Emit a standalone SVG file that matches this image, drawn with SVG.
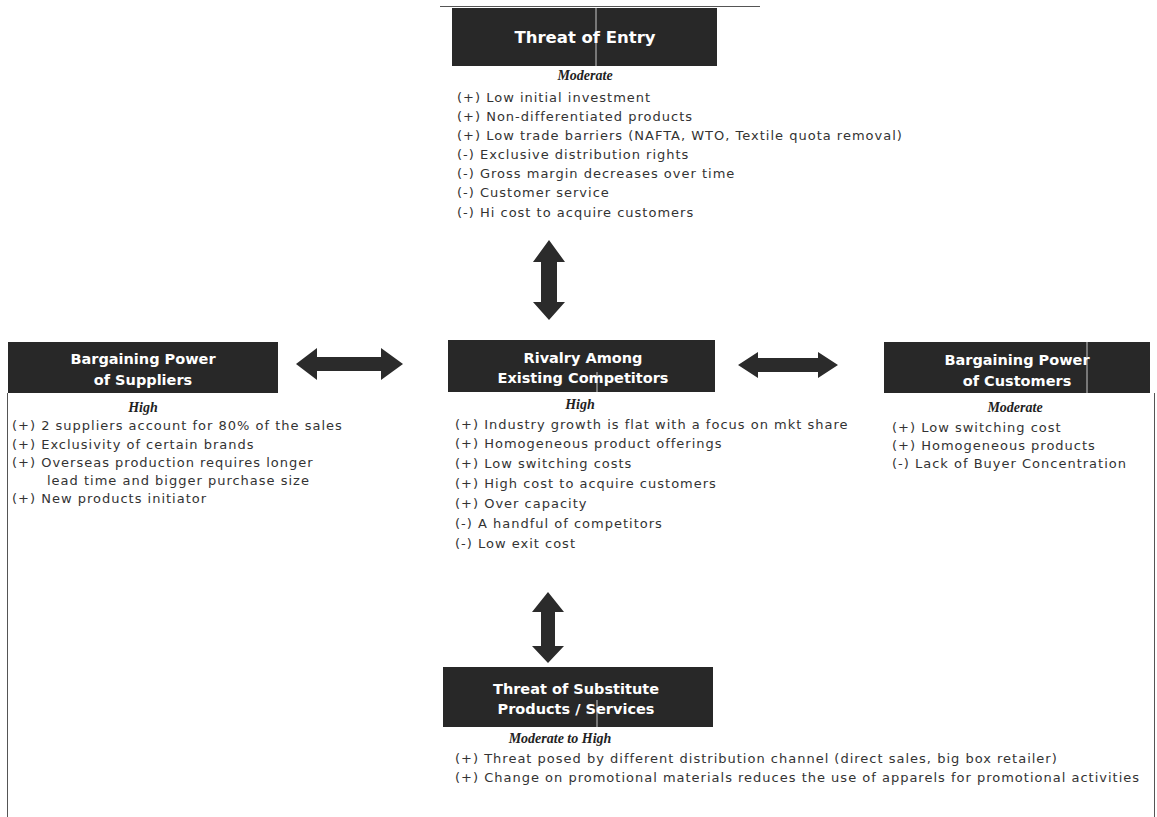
<svg xmlns="http://www.w3.org/2000/svg" width="1157" height="817" viewBox="0 0 1157 817">
  <style>
    .box { fill: #282828; }
    .edge { stroke: #555; stroke-width: 1; fill: none; }
    .fold { stroke: #c8c8c8; stroke-width: 1; }
    .title { font-family: "DejaVu Sans", Verdana, sans-serif; font-weight: bold; font-size: 14.5px; fill: #ffffff; text-anchor: middle; }
    .title-lg { font-size: 16.5px; }
    .level { font-family: "Liberation Serif", "Times New Roman", serif; font-style: italic; font-weight: bold; font-size: 14px; fill: #222; text-anchor: middle; }
    .item { font-family: "DejaVu Sans", Verdana, sans-serif; font-size: 13px; letter-spacing: 1px; fill: #333; }
    .arrow { fill: #2b2b2b; }
  </style>

  <rect width="1157" height="817" fill="#ffffff"/>

  <!-- page frame remnants -->
  <g id="frame">
    <line class="edge" x1="440" y1="6.5" x2="760" y2="6.5"/>
    <line class="edge" x1="7.5" y1="393" x2="7.5" y2="817"/>
    <line class="edge" x1="1154.5" y1="393" x2="1154.5" y2="817"/>
  </g>

  <!-- connectors -->
  <g id="connectors">
    <!-- entry <-> rivalry -->
    <polygon class="arrow" points="549,240 565,262 557,262 557,302 565,302 549,320 533,302 541,302 541,262 533,262"/>
    <!-- suppliers <-> rivalry -->
    <polygon class="arrow" points="296,364 317,348 317,357 381,357 381,348 403,364 381,380 381,371 317,371 317,380"/>
    <!-- rivalry <-> customers -->
    <polygon class="arrow" points="738,365 758,352 758,358 818,358 818,352 838,365 818,378 818,372 758,372 758,378"/>
    <!-- rivalry <-> substitutes -->
    <polygon class="arrow" points="548,592 564,612 555,612 555,646 564,646 548,663 532,646 541,646 541,612 532,612"/>
  </g>

  <!-- Threat of Entry -->
  <g id="threat-of-entry">
    <rect class="box" x="452" y="8" width="265" height="58"/>
    <line class="fold" x1="596" y1="8" x2="596" y2="66"/>
    <text class="title title-lg" x="585" y="43">Threat of Entry</text>
    <text class="level" x="585" y="80">Moderate</text>
    <text class="item" x="457" y="102">(+) Low initial investment</text>
    <text class="item" x="457" y="121">(+) Non-differentiated products</text>
    <text class="item" x="457" y="140">(+) Low trade barriers (NAFTA, WTO, Textile quota removal)</text>
    <text class="item" x="457" y="159">(-) Exclusive distribution rights</text>
    <text class="item" x="457" y="178">(-) Gross margin decreases over time</text>
    <text class="item" x="457" y="197">(-) Customer service</text>
    <text class="item" x="457" y="217">(-) Hi cost to acquire customers</text>
  </g>

  <!-- Bargaining Power of Suppliers -->
  <g id="suppliers">
    <rect class="box" x="8" y="342" width="270" height="51"/>
    <text class="title" x="143" y="364">Bargaining Power</text>
    <text class="title" x="143" y="385">of Suppliers</text>
    <text class="level" x="143" y="412">High</text>
    <text class="item" x="12" y="430">(+) 2 suppliers account for 80% of the sales</text>
    <text class="item" x="12" y="449">(+) Exclusivity of certain brands</text>
    <text class="item" x="12" y="467">(+) Overseas production requires longer</text>
    <text class="item" x="47" y="485">lead time and bigger purchase size</text>
    <text class="item" x="12" y="503">(+) New products initiator</text>
  </g>

  <!-- Rivalry Among Existing Competitors -->
  <g id="rivalry">
    <rect class="box" x="448" y="340" width="267" height="52"/>
    <line class="fold" x1="597" y1="372" x2="597" y2="392"/>
    <text class="title" x="583" y="363">Rivalry Among</text>
    <text class="title" x="583" y="383">Existing Competitors</text>
    <text class="level" x="580" y="409">High</text>
    <text class="item" x="455" y="429">(+) Industry growth is flat with a focus on mkt share</text>
    <text class="item" x="455" y="448">(+) Homogeneous product offerings</text>
    <text class="item" x="455" y="468">(+) Low switching costs</text>
    <text class="item" x="455" y="488">(+) High cost to acquire customers</text>
    <text class="item" x="455" y="508">(+) Over capacity</text>
    <text class="item" x="455" y="528">(-) A handful of competitors</text>
    <text class="item" x="455" y="548">(-) Low exit cost</text>
  </g>

  <!-- Bargaining Power of Customers -->
  <g id="customers">
    <rect class="box" x="884" y="342" width="266" height="51"/>
    <line class="fold" x1="1087" y1="342" x2="1087" y2="393"/>
    <text class="title" x="1017" y="365">Bargaining Power</text>
    <text class="title" x="1017" y="386">of Customers</text>
    <text class="level" x="1015" y="412">Moderate</text>
    <text class="item" x="892" y="432">(+) Low switching cost</text>
    <text class="item" x="892" y="450">(+) Homogeneous products</text>
    <text class="item" x="892" y="468">(-)  Lack of Buyer Concentration</text>
  </g>

  <!-- Threat of Substitute Products / Services -->
  <g id="substitutes">
    <rect class="box" x="443" y="667" width="270" height="60"/>
    <line class="fold" x1="597" y1="700" x2="597" y2="727"/>
    <text class="title" x="576" y="694">Threat of Substitute</text>
    <text class="title" x="576" y="714">Products / Services</text>
    <text class="level" x="560" y="743">Moderate to High</text>
    <text class="item" x="455" y="763">(+) Threat posed by different distribution channel (direct sales, big box retailer)</text>
    <text class="item" x="455" y="782">(+) Change on promotional materials reduces the use of apparels for promotional activities</text>
  </g>
</svg>
